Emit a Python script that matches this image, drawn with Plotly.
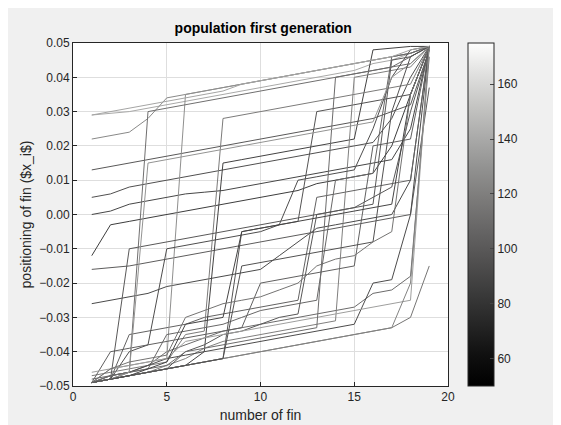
import plotly.graph_objects as go
import plotly.colors as pc

fins = list(range(1, 20))
# positions in thousandths
L = [
 [29,29.5,30,31,32,33,34,35,36,37,38,39,40,41,42,44,45,47,49],
 [22,23,24,28,34,35,36,37,38,39,40,41,42,43,44,45,46,47,49],
 [13,14,15,16,17,18,19,20,21,22,23,24,25,26,27,28,30,32,48],
 [5,6,8,9,10,11,12,13,14,15,16,17,18,19,20,21,28,40,49],
 [0,1,3,4,5,6,6.5,7,8,9,10,11,12,13,14,15,16,25,49],
 [-12,-3,-2,-1,0,1,2,3,4,5,6,7,9,10,11,12,20,35,49],
 [-26,-25,-24,-23,-21,-20,-19,-18,-17,-16,-12,-8,-4,-3,-2,-1,0,10,49],
 [-16,-15.5,-15,-14,-13,-12,-11,-10,-9,-8,-7,-6,-5,-4,-3,-2,-1,0,37],
 [-49,-48,-47,-46,-45,-44,-43,-42,-41,-40,-39,-38,-37,-36,-35,-34,-33,-30,-15],
 [-49,-47,-46,-44,-40,-38,-36,-34,-33,-32,-31,-30,-29,-28,-27,-23,-22,-18,46],
 [-49,-48,-35,-34,-33,-32,-30,-29,-28,-27,-26,-25,5,6,7,8,9,10,49],
 [-49,-45,-44,-43,-42,35,36,37,38,39,40,41,42,43,44,45,46,47,49],
 [-49,-48,-47,-46,-45,-44,-43,-42,-5,-4,-3,-2,30,31,32,33,34,35,49],
 [-49,-48,-47,-46,-45,-44,-40,15,16,17,18,19,20,21,22,48,48.5,49,49],
 [-49,-48,-47,-46,-44,-42,-39,-37,-36,-35,-34,-33,-32,-31,40,41,42,43,49],
 [-49,-47,-46,30,31,32,33,34,35,36,37,38,39,40,41,42,43,44,49],
 [-49,-48,-40,-38,-10,-9,-8,-7,-6,-5,-3,10,11,12,13,25,40,48,49],
 [-48,-47,-46,-45,-35,-34,-33,-32,-30,-28,-27,-26,-25,10,11,12,46,47,49],
 [-49,-48,-47,-46,-45,-40,-38,-35,-34,-32,-30,-29,0,1,2,5,8,30,48],
 [-47,-46,-45,-44,-43,-35,-34,28,29,30,31,32,33,34,35,36,37,38,49],
 [-49,-40,-39,-38,-37,-36,-35,-34,-33,-20,-19,-18,-17,-16,-15,20,21,22,49],
 [-49,-48,-46,-44,-42,-41,-40,-39,-38,-37,-36,-35,-34,-33,-32,-20,-19,0,49],
 [-46,-45,-44,-43,-42,-37,-36,-35,-34,-33,-32,-31,-30,-29,-28,-27,-26,-25,49],
 [-49,-48,-47,-46,-45,-44,-43,-42,-41,-40,-39,-38,-37,-36,-35,-34,-33,-20,49],
 [-49,-48,-10,-9,-8,-7,-6,-5,-4,-3,-2,-1,0,1,2,3,45,46,49],
 [-49,-47,-46,-45,-44,-40,-39,-38,-37,-36,-35,-34,-33,40,41,42,43,46,49],
 [-49,-48,-47,-45,-43,-32,-31,-30,-5,-4,-3,-2,-1,0,1,2,3,35,49],
 [-49,-48,-46,15,16,17,18,19,20,21,22,23,24,25,26,27,40,44,49],
 [-49,-48,-47,-46,-45,-44,-43,-42,-15,-14,-13,-12,-11,-10,-9,-8,30,46,49],
 [-49,-45,-43,-42,-41,-30,-28,-26,-25,-24,-22,-20,-15,-13,-12,-8,-5,35,49],
 [29,30,31,32,33,34,35,36,38,39,40,41,42,43,44,45,46,48,49],
]
cvals = [140,125,100,95,90,85,92,102,115,110,105,128,97,88,120,112,94,108,99,118,104,93,135,122,100,110,89,130,96,114,138]
cmin, cmax = 50, 175

fig = go.Figure()
for line, c in zip(L, cvals):
    col = pc.sample_colorscale("gray", [(c - cmin) / (cmax - cmin)])[0]
    fig.add_trace(go.Scatter(x=fins, y=[v / 1000 for v in line], mode="lines",
                             line=dict(color=col, width=1), showlegend=False, hoverinfo="skip"))
fig.add_trace(go.Scatter(x=[None], y=[None], mode="markers", showlegend=False,
    marker=dict(color=[cmin], cmin=cmin, cmax=cmax, colorscale="gray", showscale=True,
                colorbar=dict(x=1.053, xanchor="left", xpad=0, ypad=0, y=0.5, len=1.0, lenmode="fraction",
                              thickness=26, tickvals=[60,80,100,120,140,160],
                              outlinecolor="#262626", outlinewidth=1, ticks="inside", ticklen=4,
                              tickfont=dict(size=12, color="#262626")))))

ax = dict(showgrid=True, gridcolor="#dedede", linecolor="#262626", mirror=True, showline=True,
          ticks="inside", ticklen=4, tickcolor="#262626", zeroline=False, automargin=False,
          tickfont=dict(size=12, color="#262626"))
fig.update_layout(
    width=561, height=425, paper_bgcolor="#f0f0f0", plot_bgcolor="white",
    margin=dict(l=65, r=121, t=35, b=47, autoexpand=False),
    title=dict(text="<b>population first generation</b>", x=0.455, y=0.965, font=dict(size=14, color="black")),
    xaxis=dict(ax, range=[0, 20], tickvals=[0,5,10,15,20], title=dict(text="number of fin", font=dict(size=14, color="#262626"), standoff=6)),
    yaxis=dict(ax, range=[-0.05, 0.05], dtick=0.01, tickformat=".2f",
               title=dict(text="positioning of fin ($x_i$)", font=dict(size=14, color="#262626"), standoff=4)),
    font=dict(family="Liberation Sans, Arial"),
)
fig.write_html("out.html")
